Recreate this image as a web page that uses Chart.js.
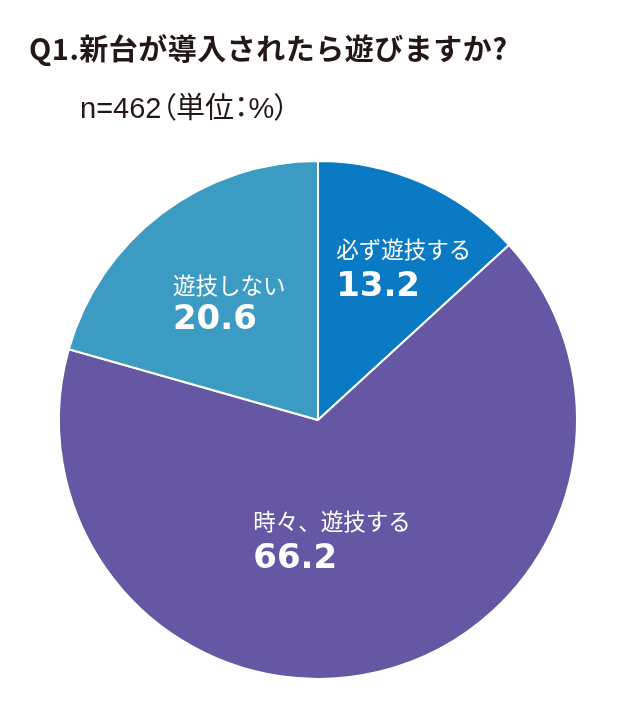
<!DOCTYPE html>
<html>
<head>
<meta charset="utf-8">
<script src="https://cdn.jsdelivr.net/npm/chart.js@4.4.0/dist/chart.umd.min.js"></script>
<style>
  html, body { margin: 0; padding: 0; background: #fff; }
  #wrap { position: relative; width: 640px; height: 707px; }
  #title {
    position: absolute; left: 29px; top: 26px;
    font-family: "Noto Sans CJK JP", sans-serif; font-weight: 700;
    font-size: 29px; color: #231815; white-space: nowrap; letter-spacing: 0.5px;
  }
  #sub {
    position: absolute; left: 80px; top: 84px;
    font-family: "Liberation Sans", "Noto Sans CJK JP", sans-serif; font-weight: 400;
    font-size: 29px; color: #231815; white-space: nowrap;
    font-feature-settings: "palt";
  }
  canvas { position: absolute; left: 0; top: 0; }
</style>
</head>
<body>
<div id="wrap">
  <canvas id="pie" width="640" height="707"></canvas>
  <div id="title">Q1.新台が導入されたら遊びますか?</div>
  <div id="sub">n=462（単位：%）</div>
</div>
<script>
// answers, clockwise from 12 o'clock
const answers = ["必ず遊技する", "時々、遊技する", "遊技しない"];
const shares = [13.2, 66.2, 20.6];
const sliceColors = ["#0b7ac4", "#6557a4", "#3c9bc2"];

// label placement relative to the pie centre, as a fraction of the radius
const labelPos = [
  { x: 0.07, jp: -0.66, num: -0.48 },
  { x: -0.25, jp: 0.39, num: 0.57 },
  { x: -0.56, jp: -0.52, num: -0.35 },
];

const sliceLabels = {
  id: "sliceLabels",
  afterDatasetsDraw(chart) {
    const c = chart.ctx;
    const arcs = chart.getDatasetMeta(0).data;
    c.save();
    c.fillStyle = "#fff";
    c.textAlign = "left";
    arcs.forEach((arc, i) => {
      const r = arc.outerRadius;
      const lx = arc.x + labelPos[i].x * r;
      c.font = '400 22.5px "Noto Sans CJK JP"';
      c.textBaseline = "middle";
      c.fillText(answers[i], lx, arc.y + labelPos[i].jp * r);
      c.font = 'bold 34px "DejaVu Sans"';
      c.textBaseline = "alphabetic";
      c.fillText(shares[i].toFixed(1), lx, arc.y + labelPos[i].num * r);
    });
    c.restore();
  }
};

const ctx = document.getElementById("pie").getContext("2d");
new Chart(ctx, {
  type: "pie",
  data: {
    labels: answers,
    datasets: [{
      data: shares,
      backgroundColor: sliceColors,
      borderColor: "#fff",
      borderWidth: 2,
    }],
  },
  options: {
    responsive: false,
    animation: false,
    layout: { padding: { left: 58, right: 62, top: 160, bottom: 27 } },
    plugins: {
      legend: { display: false },
      tooltip: { enabled: false },
    },
  },
  plugins: [sliceLabels],
});
</script>
</body>
</html>
